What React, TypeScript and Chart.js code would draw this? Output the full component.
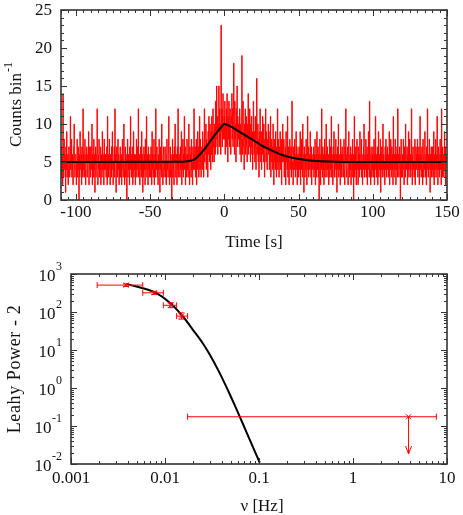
import React, { useEffect, useRef } from "react";
import { Chart, registerables } from "chart.js";
Chart.register(...registerables);

// ---------- Top panel: light curve ----------
const binStart = -110; // s
const binWidth = 0.25; // s
const counts = [
  // -110 .. -100
  5,3,7,4,6,2,14,5,3,8, 4,6,5,1,7,4,9,3,5,6, 2,4,7,5,3,6,11,4,5,8, 3,6,4,2,5,7,10,4,3,6,
  // -100 .. -90
  6,4,2,5,8,3,5,7,4,0, 6,3,9,5,4,6,2,7,5,3, 12,4,6,3,5,8,4,2,6,5, 7,3,4,6,5,9,2,4,7,5,
  // -90 .. -80
  3,7,5,4,10,2,6,5,3,8, 4,6,1,5,7,3,4,6,12,5, 2,4,6,8,3,5,4,7,2,6, 5,3,9,4,6,5,2,8,4,6,
  // -80 .. -70
  4,6,3,5,7,2,11,4,6,3, 5,8,4,2,6,5,3,7,4,9, 6,2,5,4,7,3,12,5,6,1, 4,7,3,5,8,4,6,2,5,3,
  // -70 .. -60
  7,3,5,6,2,4,8,5,3,6, 10,4,2,5,7,3,6,4,0,5, 8,3,6,4,5,2,7,4,11,5, 3,6,4,7,2,5,9,3,6,4,
  // -60 .. -50
  5,2,6,4,8,3,5,7,4,12, 3,5,6,2,4,7,5,3,9,4, 6,1,5,3,7,4,6,2,8,5, 4,11,3,6,5,2,7,4,5,3,
  // -50 .. -40
  6,4,3,7,5,2,9,4,6,3, 5,8,2,4,6,3,12,5,4,7, 3,5,2,6,4,8,5,1,7,4, 6,3,10,5,4,2,6,7,3,5,
  // -40 .. -30
  4,7,3,5,2,6,8,4,5,3, 6,11,4,2,5,7,3,6,4,0, 5,8,3,6,4,2,7,5,10,4, 3,6,5,2,7,4,12,3,5,6,
  // -30 .. -20
  5,3,7,4,6,9,2,5,4,8, 3,6,5,11,4,7,2,6,3,5, 8,4,6,3,5,10,4,2,7,5, 6,3,8,4,5,2,7,6,4,12,
  // -20 .. -10
  6,4,7,3,5,8,2,6,4,9, 5,7,3,6,11,4,8,5,3,6, 7,4,9,5,6,3,8,12,5,7, 6,10,4,8,5,7,3,9,6,11,
  // -10 .. 0
  8,5,10,7,4,9,6,11,8,5, 12,7,9,5,10,8,6,13,7,9, 15,8,11,6,10,9,15,7,12,8, 10,6,23,9,12,7,11,14,8,10,
  // 0 .. 10
  11,8,13,6,10,9,12,7,14,9, 5,11,8,13,10,7,12,9,6,11, 10,14,8,12,7,11,18,9,6,13, 8,10,5,12,9,15,7,11,8,10,
  // 10 .. 20
  9,7,12,6,10,8,5,11,19,8, 6,13,9,7,4,10,8,12,6,9, 11,7,5,10,8,14,6,9,7,12, 8,5,10,7,11,6,9,4,8,13,
  // 20 .. 30
  8,6,9,5,11,7,4,8,16,6, 7,10,5,8,3,9,6,12,7,5, 9,4,8,6,11,7,5,10,6,3, 8,7,12,5,9,6,4,8,7,10,
  // 30 .. 40
  6,9,4,7,5,11,3,6,8,5, 7,4,10,6,2,8,5,7,4,9, 6,3,7,5,12,4,8,6,3,7, 5,9,4,6,8,2,7,5,10,6,
  // 40 .. 50
  5,8,3,6,4,7,2,9,5,6, 4,11,3,7,5,2,6,8,4,5, 7,3,6,13,4,5,2,7,6,4, 8,5,3,6,9,4,7,2,5,6,
  // 50 .. 60
  6,3,7,4,5,9,2,6,4,8, 5,3,10,6,4,1,7,5,3,6, 4,8,5,2,6,11,4,7,3,5, 6,4,9,5,3,7,2,6,5,4,
  // 60 .. 70
  5,7,3,6,4,8,2,5,6,3, 9,4,5,7,3,6,0,4,8,5, 2,6,4,12,5,3,7,4,6,2, 5,8,3,6,4,10,5,3,7,4,
  // 70 .. 80
  4,6,2,5,8,3,7,4,5,11, 3,6,4,2,7,5,9,3,6,4, 5,8,3,6,1,4,7,5,10,3, 6,4,5,2,8,4,6,3,7,5,
  // 80 .. 90
  6,3,5,8,4,2,7,5,12,4, 3,6,5,7,2,4,9,6,3,5, 4,7,2,6,5,3,8,4,6,0, 5,11,3,6,4,7,2,5,8,4,
  // 90 .. 100
  5,2,7,4,6,3,9,5,4,6, 8,3,5,2,6,4,7,10,3,5, 6,4,8,3,5,7,2,6,4,9, 5,3,13,6,4,2,7,5,3,6,
  // 100 .. 110
  4,7,3,5,8,2,6,4,11,5, 3,6,4,7,2,5,9,3,6,4, 5,8,1,6,4,7,3,5,10,4, 6,3,5,2,7,4,8,6,3,5,
  // 110 .. 120
  7,4,6,3,5,9,2,6,4,8, 5,3,7,4,6,2,11,5,3,6, 4,8,5,2,6,4,7,3,12,5, 6,3,5,7,4,0,6,8,3,5,
  // 120 .. 130
  3,6,5,8,4,2,7,5,3,10, 6,4,5,7,2,6,4,9,3,5, 8,4,6,3,5,12,4,2,6,7, 4,5,3,6,8,2,5,7,4,6,
  // 130 .. 140
  5,8,3,6,4,7,2,5,11,4, 6,3,5,7,4,2,8,6,3,5, 4,9,5,3,6,2,7,4,12,5, 3,6,4,8,5,1,6,4,7,3,
  // 140 .. 150
  6,4,7,3,5,9,2,6,4,5, 8,3,6,4,11,5,2,7,4,6, 3,5,8,4,6,2,12,5,3,7, 4,6,3,5,9,4,7,2,5,6,
];

const modelTime = [-110, -30, -25, -20, -15, -10, -5, -2, 0, 3, 6, 10, 15, 20, 25, 30, 35, 40, 45, 50, 55, 60, 70, 80, 150];
const modelCounts = [5, 5.02, 5.1, 5.35, 6.3, 7.6, 8.9, 9.6, 10, 9.8, 9.5, 9.0, 8.4, 7.8, 7.2, 6.7, 6.25, 5.85, 5.6, 5.4, 5.25, 5.15, 5.05, 5.01, 5];

const topXMin = -110;
const topXMax = 150;
const topYMin = 0;
const topYMax = 25;
const topXTicks = [-100, -50, 0, 50, 100, 150];
const topYTicks = [0, 5, 10, 15, 20, 25];

// ---------- Bottom panel: power spectrum ----------
const psdFreq = [0.00385, 0.0077, 0.0115, 0.015];
const psdPower = [510, 320, 150, 78];
const psdFreqLo = [0.0019, 0.0058, 0.0096, 0.0133];
const psdFreqHi = [0.0058, 0.0096, 0.0133, 0.0174];
const psdPowerLo = [470, 290, 130, 65];
const psdPowerHi = [550, 350, 175, 95];

const limitFreq = [3.9];
const limitPower = [0.175];
const limitFreqLo = [0.0174];
const limitFreqHi = [7.7];
const limitArrowTo = [0.0183];

const modelFreq = [0.0039, 0.0078, 0.0115, 0.0156, 0.02, 0.025, 0.03, 0.0375, 0.0451, 0.055, 0.067, 0.082, 0.102];
const modelPower = [550, 330, 168, 75, 33, 15.5, 7.5, 2.7, 1.05, 0.36, 0.118, 0.037, 0.0108];

const botXMin = 0.001;
const botXMax = 10;
const botYMin = 0.01;
const botYMax = 1000;
const botXTicks = [0.001, 0.01, 0.1, 1, 10];
const botXTickLabels = ["0.001", "0.01", "0.1", "1", "10"];
const botYExponents = [-2, -1, 0, 1, 2, 3];

// ---------- styling ----------
const FONT = '"Liberation Serif", "Times New Roman", serif';
const TEXT = "#111";
const FRAME = "#333";
const RED = "#ff0000";

type FrameCfg = {
  xMajor: number[];
  xMinor: number[];
  yMajor: number[];
  yMinor: number[];
  drawLabels: (chart: any) => void;
};

function makeFramePlugin(cfg: FrameCfg) {
  return {
    id: "frame",
    afterDatasetsDraw(chart: any) {
      const ctx = chart.ctx as CanvasRenderingContext2D;
      const a = chart.chartArea;
      const xs = chart.scales.x;
      const ys = chart.scales.y;
      ctx.save();
      ctx.strokeStyle = FRAME;
      ctx.lineWidth = 1;
      const vt = (v: number, len: number) => {
        const px = Math.round(xs.getPixelForValue(v)) + 0.5;
        ctx.beginPath();
        ctx.moveTo(px, a.bottom);
        ctx.lineTo(px, a.bottom - len);
        ctx.moveTo(px, a.top);
        ctx.lineTo(px, a.top + len);
        ctx.stroke();
      };
      const ht = (v: number, len: number) => {
        const py = Math.round(ys.getPixelForValue(v)) + 0.5;
        ctx.beginPath();
        ctx.moveTo(a.left, py);
        ctx.lineTo(a.left + len, py);
        ctx.moveTo(a.right, py);
        ctx.lineTo(a.right - len, py);
        ctx.stroke();
      };
      cfg.xMinor.forEach((v) => vt(v, 3));
      cfg.xMajor.forEach((v) => vt(v, 6));
      cfg.yMinor.forEach((v) => ht(v, 3));
      cfg.yMajor.forEach((v) => ht(v, 6));
      ctx.lineWidth = 1.6;
      ctx.strokeRect(a.left, a.top, a.right - a.left, a.bottom - a.top);
      ctx.restore();
      ctx.save();
      cfg.drawLabels(chart);
      ctx.restore();
    },
  };
}

function linMinor(min: number, max: number, step: number) {
  const out: number[] = [];
  for (let v = min; v <= max + 1e-9; v += step) out.push(v);
  return out;
}
function logMinor(min: number, max: number) {
  const out: number[] = [];
  for (let e = Math.round(Math.log10(min)); e < Math.round(Math.log10(max)); e++) {
    for (let k = 2; k <= 9; k++) out.push(k * Math.pow(10, e));
  }
  return out;
}

function TopChart() {
  const ref = useRef<HTMLCanvasElement>(null);
  useEffect(() => {
    const countPts = counts.map((c, i) => ({ x: binStart + i * binWidth, y: c }));
    countPts.push({ x: binStart + counts.length * binWidth, y: counts[counts.length - 1] });
    const modelPts = modelTime.map((t, i) => ({ x: t, y: modelCounts[i] }));
    const plugin = makeFramePlugin({
      xMajor: topXTicks,
      xMinor: linMinor(topXMin, topXMax, 5),
      yMajor: topYTicks,
      yMinor: linMinor(topYMin, topYMax, 1),
      drawLabels(chart: any) {
        const ctx = chart.ctx as CanvasRenderingContext2D;
        const a = chart.chartArea;
        const xs = chart.scales.x;
        const ys = chart.scales.y;
        ctx.fillStyle = TEXT;
        ctx.font = `17px ${FONT}`;
        ctx.textAlign = "right";
        ctx.textBaseline = "middle";
        topYTicks.forEach((v) => ctx.fillText(String(v), a.left - 9, ys.getPixelForValue(v) + 1));
        ctx.textAlign = "center";
        topXTicks.forEach((v) => ctx.fillText(String(v), xs.getPixelForValue(v), a.bottom + 13));
        ctx.fillText("Time [s]", (a.left + a.right) / 2, a.bottom + 43);
        ctx.save();
        ctx.translate(15, (a.top + a.bottom) / 2);
        ctx.rotate(-Math.PI / 2);
        ctx.font = `17px ${FONT}`;
        const main = "Counts bin";
        const w1 = ctx.measureText(main).width;
        ctx.font = `12px ${FONT}`;
        const sup = "-1";
        const w2 = ctx.measureText(sup).width;
        const start = -(w1 + w2) / 2;
        ctx.textAlign = "left";
        ctx.font = `17px ${FONT}`;
        ctx.fillText(main, start, 2);
        ctx.font = `12px ${FONT}`;
        ctx.fillText(sup, start + w1 + 1, -6);
        ctx.restore();
      },
    });
    const chart = new Chart(ref.current!, {
      type: "line",
      data: {
        datasets: [
          {
            data: modelPts,
            borderColor: "#000",
            borderWidth: 2,
            pointRadius: 0,
            cubicInterpolationMode: "monotone",
            order: 0,
          },
          {
            data: countPts,
            borderColor: RED,
            borderWidth: 1,
            pointRadius: 0,
            stepped: "after",
            order: 1,
          },
        ],
      },
      options: {
        responsive: false,
        animation: false,
        events: [],
        layout: { padding: { left: 61, right: 16, top: 10, bottom: 55 } },
        plugins: { legend: { display: false }, tooltip: { enabled: false } },
        scales: {
          x: { type: "linear", min: topXMin, max: topXMax, display: false },
          y: { type: "linear", min: topYMin, max: topYMax, display: false },
        },
      } as any,
      plugins: [plugin],
    });
    return () => chart.destroy();
  }, []);
  return <canvas ref={ref} width={463} height={255} style={{ display: "block" }} />;
}

function BottomChart() {
  const ref = useRef<HTMLCanvasElement>(null);
  useEffect(() => {
    const modelPts = modelFreq.map((f, i) => ({ x: f, y: modelPower[i] }));
    const errPlugin = {
      id: "errbars",
      afterDatasetsDraw(chart: any) {
        const ctx = chart.ctx as CanvasRenderingContext2D;
        const xs = chart.scales.x;
        const ys = chart.scales.y;
        ctx.save();
        ctx.strokeStyle = RED;
        ctx.lineWidth = 1;
        const cap = 3;
        const line = (x1: number, y1: number, x2: number, y2: number) => {
          ctx.beginPath();
          ctx.moveTo(x1, y1);
          ctx.lineTo(x2, y2);
          ctx.stroke();
        };
        const cross = (x: number, y: number) => {
          const s = 2.5;
          line(x - s, y - s, x + s, y + s);
          line(x - s, y + s, x + s, y - s);
        };
        psdFreq.forEach((f, i) => {
          const px = xs.getPixelForValue(f);
          const py = ys.getPixelForValue(psdPower[i]);
          const xl = xs.getPixelForValue(psdFreqLo[i]);
          const xh = xs.getPixelForValue(psdFreqHi[i]);
          const yl = ys.getPixelForValue(psdPowerLo[i]);
          const yh = ys.getPixelForValue(psdPowerHi[i]);
          line(xl, py, xh, py);
          line(xl, py - cap, xl, py + cap);
          line(xh, py - cap, xh, py + cap);
          line(px, yl, px, yh);
          line(px - cap, yl, px + cap, yl);
          line(px - cap, yh, px + cap, yh);
          cross(px, py);
        });
        limitFreq.forEach((f, i) => {
          const px = xs.getPixelForValue(f);
          const py = ys.getPixelForValue(limitPower[i]);
          const xl = xs.getPixelForValue(limitFreqLo[i]);
          const xh = xs.getPixelForValue(limitFreqHi[i]);
          const yt = ys.getPixelForValue(limitArrowTo[i]);
          line(xl, py, xh, py);
          line(xl, py - cap, xl, py + cap);
          line(xh, py - cap, xh, py + cap);
          cross(px, py);
          line(px, py, px, yt);
          line(px - 3, yt - 8, px, yt);
          line(px + 3, yt - 8, px, yt);
        });
        ctx.restore();
      },
    };
    const frame = makeFramePlugin({
      xMajor: botXTicks,
      xMinor: logMinor(botXMin, botXMax),
      yMajor: botYExponents.map((e) => Math.pow(10, e)),
      yMinor: logMinor(botYMin, botYMax),
      drawLabels(chart: any) {
        const ctx = chart.ctx as CanvasRenderingContext2D;
        const a = chart.chartArea;
        const xs = chart.scales.x;
        const ys = chart.scales.y;
        ctx.fillStyle = TEXT;
        ctx.textBaseline = "middle";
        botYExponents.forEach((e) => {
          const py = ys.getPixelForValue(Math.pow(10, e));
          const sup = String(e);
          ctx.font = `12px ${FONT}`;
          const ws = ctx.measureText(sup).width;
          ctx.textAlign = "right";
          ctx.fillText(sup, a.left - 9, py - 7);
          ctx.font = `17px ${FONT}`;
          ctx.fillText("10", a.left - 9 - ws - 0.5, py + 3);
        });
        ctx.font = `17px ${FONT}`;
        ctx.textAlign = "center";
        botXTicks.forEach((v, i) => ctx.fillText(botXTickLabels[i], xs.getPixelForValue(v), a.bottom + 15));
        ctx.fillText("ν [Hz]", (a.left + a.right) / 2 + 3, a.bottom + 43);
        ctx.save();
        ctx.translate(15, (a.top + a.bottom) / 2);
        ctx.rotate(-Math.PI / 2);
        ctx.font = `18px ${FONT}`;
        (ctx as any).letterSpacing = "0.6px";
        ctx.fillText("Leahy Power - 2", 0, 0);
        ctx.restore();
      },
    });
    const chart = new Chart(ref.current!, {
      type: "line",
      data: {
        datasets: [
          {
            data: modelPts,
            borderColor: "#000",
            borderWidth: 2,
            pointRadius: 0,
            tension: 0.3,
          },
        ],
      },
      options: {
        responsive: false,
        animation: false,
        events: [],
        layout: { padding: { left: 71, right: 16, top: 19, bottom: 51 } },
        plugins: { legend: { display: false }, tooltip: { enabled: false } },
        scales: {
          x: { type: "logarithmic", min: botXMin, max: botXMax, display: false },
          y: { type: "logarithmic", min: botYMin, max: botYMax, display: false },
        },
      } as any,
      plugins: [errPlugin, frame],
    });
    return () => chart.destroy();
  }, []);
  return <canvas ref={ref} width={463} height={260} style={{ display: "block" }} />;
}

export default function App() {
  return (
    <div style={{ position: "absolute", left: 0, top: 0, width: 463, height: 515, background: "#fff" }}>
      <TopChart />
      <BottomChart />
    </div>
  );
}
